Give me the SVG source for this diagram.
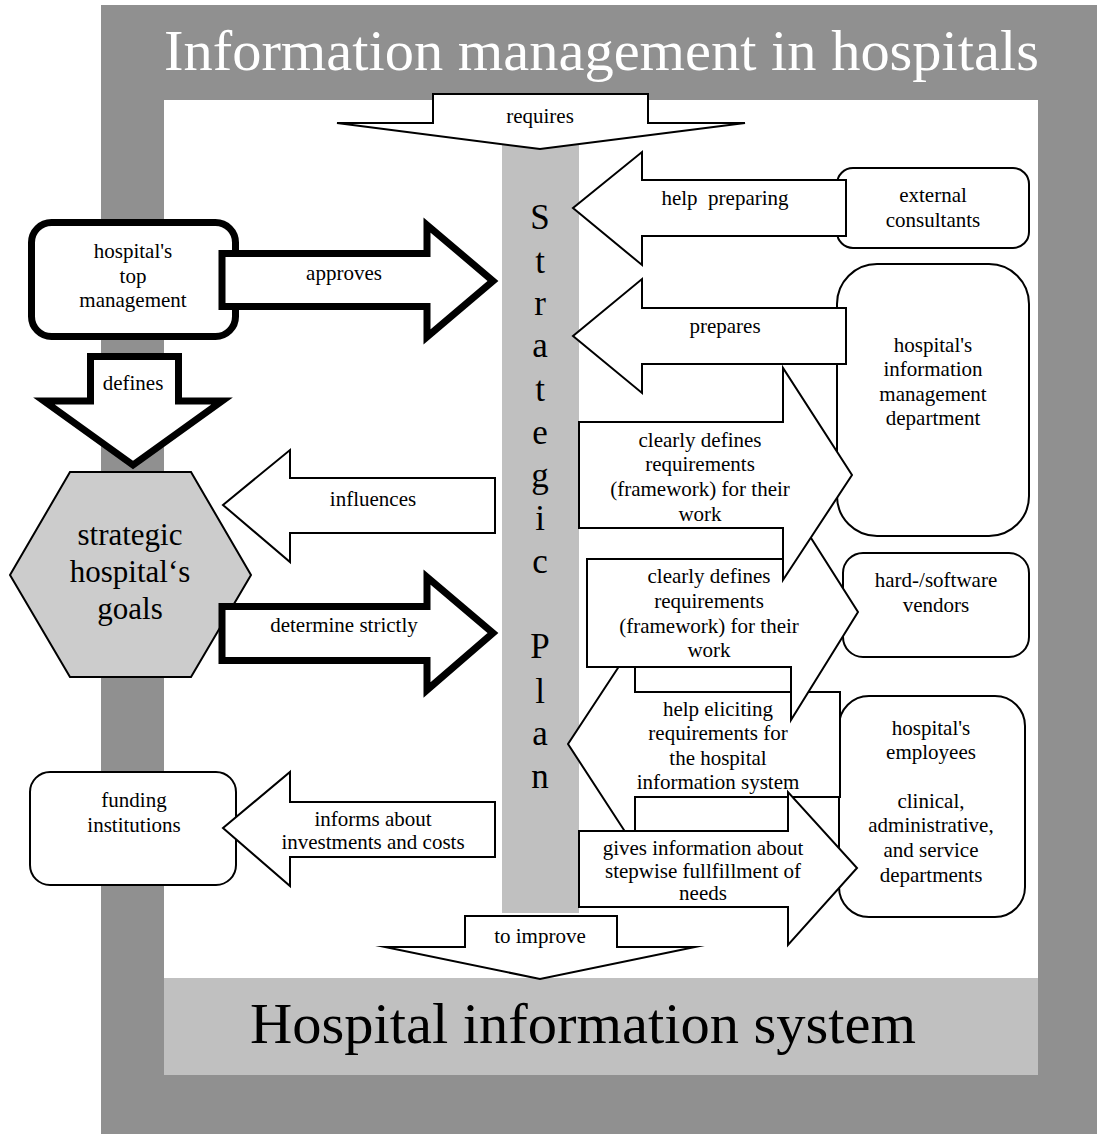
<svg xmlns="http://www.w3.org/2000/svg" width="1097" height="1134" viewBox="0 0 1097 1134">
<style>
text{font-family:"Liberation Serif","Times New Roman",serif;fill:#000}
.lbl{font-size:21px;text-anchor:middle}
.big{font-size:31px;text-anchor:middle}
.sp{font-size:35px;text-anchor:middle}
.box{fill:#fff;stroke:#000;stroke-width:2}
.thick{fill:#fff;stroke:#000;stroke-width:7;stroke-linejoin:miter;stroke-miterlimit:10}
.arr{fill:#fff;stroke:#000;stroke-width:2;stroke-linejoin:miter;stroke-miterlimit:10}
</style>
<g id="frame">
<rect x="101" y="5" width="996" height="1129" fill="#909090"/>
<rect x="164" y="100" width="874" height="878" fill="#fff"/>
<rect x="164" y="978" width="874" height="97" fill="#c0c0c0"/>
<text x="164" y="70" font-size="58" textLength="875" lengthAdjust="spacingAndGlyphs" style="fill:#fff">Information management in hospitals</text>
</g>
<g id="his">
<text x="250" y="1043" font-size="58" textLength="666" lengthAdjust="spacingAndGlyphs">Hospital information system</text>
</g>
<g id="strategic-plan">
<rect x="502" y="140" width="77" height="773" fill="#c0c0c0"/>
<text class="sp"><tspan x="540" y="229">S</tspan><tspan x="540" y="273">t</tspan><tspan x="540" y="315">r</tspan><tspan x="540" y="357">a</tspan><tspan x="540" y="401">t</tspan><tspan x="540" y="444">e</tspan><tspan x="540" y="487">g</tspan><tspan x="540" y="530">i</tspan><tspan x="540" y="573">c</tspan><tspan x="540" y="658">P</tspan><tspan x="540" y="703">l</tspan><tspan x="540" y="745">a</tspan><tspan x="540" y="788">n</tspan></text>
</g>
<g id="top-management">
<rect x="31.5" y="222.5" width="204" height="114" rx="20" class="thick"/>
<text class="lbl"><tspan x="133" y="258">hospital's</tspan><tspan x="133" y="283">top</tspan><tspan x="133" y="307">management</tspan></text>
</g>
<g id="goals">
<polygon points="70,472 191,472 251,575 191,677 70,677 10,575" fill="#cccccc" stroke="#000" stroke-width="2"/>
<text class="big"><tspan x="130" y="545">strategic</tspan><tspan x="130" y="582">hospital‘s</tspan><tspan x="130" y="619">goals</tspan></text>
</g>
<g id="funding">
<rect x="30" y="772" width="206" height="113" rx="20" class="box"/>
<text class="lbl"><tspan x="134" y="807">funding</tspan><tspan x="134" y="832">institutions</tspan></text>
</g>
<g id="consultants">
<rect x="837" y="168" width="192" height="80" rx="16" class="box"/>
<text class="lbl"><tspan x="933" y="202">external</tspan><tspan x="933" y="227">consultants</tspan></text>
</g>
<g id="im-department">
<rect x="837" y="264" width="192" height="272" rx="40" class="box"/>
<text class="lbl"><tspan x="933" y="352">hospital's</tspan><tspan x="933" y="376">information</tspan><tspan x="933" y="401">management</tspan><tspan x="933" y="425">department</tspan></text>
</g>
<g id="vendors">
<rect x="843" y="553" width="186" height="104" rx="20" class="box"/>
<text class="lbl"><tspan x="936" y="587">hard-/software</tspan><tspan x="936" y="612">vendors</tspan></text>
</g>
<g id="employees">
<rect x="839" y="696" width="186" height="221" rx="30" class="box"/>
<text class="lbl"><tspan x="931" y="735">hospital's</tspan><tspan x="931" y="759">employees</tspan><tspan x="931" y="808">clinical,</tspan><tspan x="931" y="832">administrative,</tspan><tspan x="931" y="857">and service</tspan><tspan x="931" y="882">departments</tspan></text>
</g>
<g id="connectors">
<path class="arr" d="M433,94 H648 V123 H745 L540,149 L337,123 H433 Z"/>
<text class="lbl" x="540" y="123">requires</text>
<path class="arr" d="M465,916 H617 V947 H695 L540,979 L385,947 H465 Z"/>
<text class="lbl" x="540" y="943">to improve</text>
<path class="thick" d="M222,253.5 H427 V225 L493,281 L427,337 V306.5 H222 Z"/>
<text class="lbl" x="344" y="280">approves</text>
<path class="thick" d="M90.5,356.5 H178.5 V401 H222 L133,465 L44,401 H90.5 Z"/>
<text class="lbl" x="133" y="390">defines</text>
<path class="arr" d="M495,478 V533 H290 V562 L223,505 L290,450 V478 Z"/>
<text class="lbl" x="373" y="506">influences</text>
<path class="thick" d="M222,606.5 H427 V577 L493,633 L427,690 V660.5 H222 Z"/>
<text class="lbl" x="344" y="632">determine strictly</text>
<path class="arr" d="M495,802 V857 H290 V886 L223,828 L290,772 V802 Z"/>
<text class="lbl"><tspan x="373" y="826">informs about</tspan><tspan x="373" y="849">investments and costs</tspan></text>
<path class="arr" d="M846,180 V236 H642 V265 L573,208 L642,152 V180 Z"/>
<text class="lbl" x="725" y="205" style="white-space:pre">help  preparing</text>
<path class="arr" d="M846,308 V364 H642 V393 L573,336 L642,279 V308 Z"/>
<text class="lbl" x="725" y="333">prepares</text>
<path class="arr" d="M840,692 V797 H635 V847 L568,744 L635,642 V692 Z"/>
<text class="lbl"><tspan x="718" y="716">help eliciting</tspan><tspan x="718" y="740">requirements for</tspan><tspan x="718" y="765">the hospital</tspan><tspan x="718" y="789">information system</tspan></text>
<path class="arr" d="M579,831 H788 V792 L857,868 L788,945 V907 H579 Z"/>
<text class="lbl"><tspan x="703" y="855">gives information about</tspan><tspan x="703" y="878">stepwise fullfillment of</tspan><tspan x="703" y="900">needs</tspan></text>
<path class="arr" d="M587,559 H785 V497 L858,612 L791,720 V667 H587 Z"/>
<text class="lbl"><tspan x="709" y="583">clearly defines</tspan><tspan x="709" y="608">requirements</tspan><tspan x="709" y="633">(framework) for their</tspan><tspan x="709" y="657">work</tspan></text>
<path class="arr" d="M579,422 H783 V368 L852,475 L783,580 V528 H579 Z"/>
<text class="lbl"><tspan x="700" y="447">clearly defines</tspan><tspan x="700" y="471">requirements</tspan><tspan x="700" y="496">(framework) for their</tspan><tspan x="700" y="521">work</tspan></text>
</g>
</svg>
